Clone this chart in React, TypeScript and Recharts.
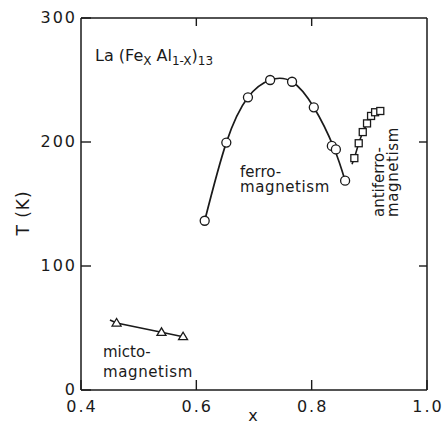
import React from "react";
import { ComposedChart, Line, Scatter, XAxis, YAxis } from "recharts";

const INK = "#1a1a1a";
const FONT = "'DejaVu Sans', sans-serif";

// ferromagnetic T_C (circles)
const ferroX = [0.6145, 0.652, 0.6895, 0.728, 0.766, 0.8037, 0.835, 0.842, 0.858];
const ferroT = [136.5, 199.5, 236, 250, 248.6, 228, 196.8, 194, 168.8];
// the drawn curve
const ferroCurveX = [0.6145, 0.652, 0.6895, 0.728, 0.766, 0.8037, 0.8385, 0.858];
const ferroCurveT = [136.5, 199.5, 236, 250, 248.6, 228, 195.4, 168.8];

// antiferromagnetic T_N (squares)
const antiX = [0.874, 0.8816, 0.8886, 0.896, 0.903, 0.91, 0.919];
const antiT = [187, 199, 208, 215, 221, 224, 225];
const antiLineX = [0.87, 0.874, 0.8816, 0.8886, 0.896, 0.903, 0.91];
const antiLineT = [182, 187, 199, 208, 215, 221, 224];

// mictomagnetic T_f (triangles)
const mictoX = [0.4617, 0.5396, 0.577];
const mictoT = [54, 46.5, 43];
const mictoLineX = [0.4502, 0.4617, 0.5396, 0.577];
const mictoLineT = [56.5, 54, 46.5, 43];

const xTicks = [0.4, 0.6, 0.8, 1.0];
const yTicks = [0, 100, 200, 300];
const xTicksTop = [0.6, 0.8];
const yTicksRight = [100, 200];

const zip = (xs: number[], ts: number[]) => xs.map((x, i) => ({ x, T: ts[i] }));

const ferro = zip(ferroX, ferroT);
const ferroCurve = zip(ferroCurveX, ferroCurveT);
const anti = zip(antiX, antiT);
const antiLine = zip(antiLineX, antiLineT);
const micto = zip(mictoX, mictoT);
const mictoLine = zip(mictoLineX, mictoLineT);

const tickText = {
  fill: INK,
  fontFamily: FONT,
  fontSize: 16,
  letterSpacing: 2,
};

const BottomTick = ({ x, y, payload }: any) => (
  <g>
    <line x1={x} y1={y} x2={x} y2={y - 10} stroke={INK} strokeWidth={1.4} />
    <text x={x + 1} y={y + 22} textAnchor="middle" {...tickText}>
      {Number(payload.value).toFixed(1)}
    </text>
  </g>
);

const LeftTick = ({ x, y, payload }: any) => (
  <g>
    <line x1={x} y1={y} x2={x + 10} y2={y} stroke={INK} strokeWidth={1.4} />
    <text x={x - 4} y={y + 5} textAnchor="end" {...tickText}>
      {payload.value}
    </text>
  </g>
);

const TopTick = ({ x, y }: any) => (
  <line x1={x} y1={y} x2={x} y2={y + 8} stroke={INK} strokeWidth={1.4} />
);

const RightTick = ({ x, y }: any) => (
  <line x1={x} y1={y} x2={x - 8} y2={y} stroke={INK} strokeWidth={1.4} />
);

const CircleMark = ({ cx, cy }: any) => (
  <circle cx={cx} cy={cy} r={4.5} fill="#fff" stroke={INK} strokeWidth={1.3} />
);

const SquareMark = ({ cx, cy }: any) => (
  <rect x={cx - 3.5} y={cy - 3.5} width={7} height={7} fill="#fff" stroke={INK} strokeWidth={1.3} />
);

const TriangleMark = ({ cx, cy }: any) => (
  <polygon
    points={`${cx - 4.5},${cy + 3} ${cx + 4.5},${cy + 3} ${cx},${cy - 4.5}`}
    fill="#fff"
    stroke={INK}
    strokeWidth={1.3}
  />
);

const NoMark = () => <g />;

const labelStyle = { fill: INK, fontFamily: FONT, fontSize: 15 };

export default function App() {
  return (
    <div style={{ position: "absolute", left: 0, top: 0, width: 445, height: 425, background: "#fff" }}>
      <ComposedChart width={445} height={425} margin={{ top: 17, right: 17, bottom: 0, left: 0 }}>
        <XAxis
          dataKey="x"
          type="number"
          domain={[0.4, 1.0]}
          ticks={xTicks}
          height={35}
          axisLine={{ stroke: INK, strokeWidth: 1.5 }}
          tickLine={false}
          tickSize={0}
          tickMargin={0}
          tick={<BottomTick />}
          allowDataOverflow
        />
        <XAxis
          xAxisId="top"
          dataKey="x"
          orientation="top"
          type="number"
          domain={[0.4, 1.0]}
          ticks={xTicksTop}
          height={1}
          axisLine={{ stroke: INK, strokeWidth: 1.5 }}
          tickLine={false}
          tickSize={0}
          tickMargin={0}
          tick={<TopTick />}
          allowDataOverflow
        />
        <YAxis
          dataKey="T"
          type="number"
          domain={[0, 300]}
          ticks={yTicks}
          width={81}
          axisLine={{ stroke: INK, strokeWidth: 1.5 }}
          tickLine={false}
          tickSize={0}
          tickMargin={0}
          tick={<LeftTick />}
          allowDataOverflow
        />
        <YAxis
          yAxisId="right"
          dataKey="T"
          orientation="right"
          type="number"
          domain={[0, 300]}
          ticks={yTicksRight}
          width={1}
          axisLine={{ stroke: INK, strokeWidth: 1.5 }}
          tickLine={false}
          tickSize={0}
          tickMargin={0}
          tick={<RightTick />}
          allowDataOverflow
        />
        <Line
          data={ferroCurve}
          dataKey="T"
          type="natural"
          stroke={INK}
          strokeWidth={1.7}
          dot={false}
          activeDot={false}
          isAnimationActive={false}
        />
        <Line
          data={antiLine}
          dataKey="T"
          type="linear"
          stroke={INK}
          strokeWidth={1.6}
          dot={false}
          activeDot={false}
          isAnimationActive={false}
        />
        <Line
          data={mictoLine}
          dataKey="T"
          type="linear"
          stroke={INK}
          strokeWidth={1.6}
          dot={false}
          activeDot={false}
          isAnimationActive={false}
        />
        <Scatter data={ferro} dataKey="T" shape={<CircleMark />} isAnimationActive={false} />
        <Scatter data={anti} dataKey="T" shape={<SquareMark />} isAnimationActive={false} />
        <Scatter data={micto} dataKey="T" shape={<TriangleMark />} isAnimationActive={false} />
        {/* invisible copy that keeps the top and right frame axes alive */}
        <Scatter
          data={ferro}
          dataKey="T"
          xAxisId="top"
          yAxisId="right"
          shape={<NoMark />}
          isAnimationActive={false}
        />
      </ComposedChart>
      <svg
        width={445}
        height={425}
        style={{ position: "absolute", left: 0, top: 0, pointerEvents: "none" }}
      >
        <text x={95} y={61} fill={INK} fontFamily={FONT} fontSize={16}>
          La (Fe
          <tspan fontSize={12} dy={4}>X</tspan>
          <tspan dy={-4}> Al</tspan>
          <tspan fontSize={12} dy={4}>1-X</tspan>
          <tspan dy={-4}>)</tspan>
          <tspan fontSize={12} dy={4}>13</tspan>
        </text>
        <text x={240} y={177} {...labelStyle}>ferro-</text>
        <text x={240} y={192} {...labelStyle} letterSpacing={0.6}>magnetism</text>
        <text x={103} y={357} {...labelStyle}>micto-</text>
        <text x={103} y={377} {...labelStyle} letterSpacing={0.6}>magnetism</text>
        <g transform="translate(384,217) rotate(-90)">
          <text x={0} y={0} {...labelStyle}>antiferro-</text>
          <text x={0} y={14} {...labelStyle} letterSpacing={0.6}>magnetism</text>
        </g>
        <text
          x={0}
          y={0}
          transform="translate(29,213) rotate(-90)"
          textAnchor="middle"
          fill={INK}
          fontFamily={FONT}
          fontSize={17}
          letterSpacing={1}
        >
          T (K)
        </text>
        <text x={253} y={421} textAnchor="middle" fill={INK} fontFamily={FONT} fontSize={16}>
          x
        </text>
      </svg>
    </div>
  );
}
